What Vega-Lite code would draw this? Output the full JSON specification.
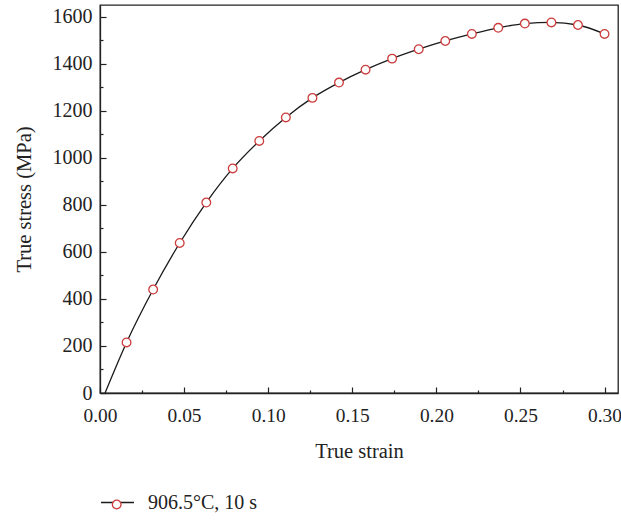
{
  "$schema": "https://vega.github.io/schema/vega-lite/v6.json",
  "autosize": {"type": "none"},
  "padding": {"left": 100, "top": 5, "right": 3, "bottom": 127},
  "width": 518,
  "height": 388,
  "background": "white",
  "config": {
    "font": "Liberation Serif",
    "view": {"stroke": "#222", "strokeWidth": 1.3},
    "axis": {
      "domainColor": "#222", "domainWidth": 1.3,
      "tickColor": "#222", "tickWidth": 1.2,
      "labelFont": "Liberation Serif", "labelFontSize": 20, "labelColor": "#222",
      "titleFont": "Liberation Serif", "titleFontSize": 20.5, "titleFontWeight": "normal", "titleColor": "#222",
      "grid": false
    },
    "legend": {"labelFont": "Liberation Serif", "labelFontSize": 20, "labelColor": "#222"}
  },
  "datasets": {
    "curve": [
      {"strain": 0.003, "stress": 0, "s1": "906.5°C, 10 s"},
      {"strain": 0.0158, "stress": 215, "s1": "906.5°C, 10 s"},
      {"strain": 0.0316, "stress": 440, "s1": "906.5°C, 10 s"},
      {"strain": 0.0474, "stress": 638, "s1": "906.5°C, 10 s"},
      {"strain": 0.0632, "stress": 810, "s1": "906.5°C, 10 s"},
      {"strain": 0.0789, "stress": 955, "s1": "906.5°C, 10 s"},
      {"strain": 0.0947, "stress": 1072, "s1": "906.5°C, 10 s"},
      {"strain": 0.1105, "stress": 1172, "s1": "906.5°C, 10 s"},
      {"strain": 0.1263, "stress": 1255, "s1": "906.5°C, 10 s"},
      {"strain": 0.1421, "stress": 1320, "s1": "906.5°C, 10 s"},
      {"strain": 0.1579, "stress": 1375, "s1": "906.5°C, 10 s"},
      {"strain": 0.1737, "stress": 1422, "s1": "906.5°C, 10 s"},
      {"strain": 0.1895, "stress": 1462, "s1": "906.5°C, 10 s"},
      {"strain": 0.2053, "stress": 1497, "s1": "906.5°C, 10 s"},
      {"strain": 0.2211, "stress": 1527, "s1": "906.5°C, 10 s"},
      {"strain": 0.2368, "stress": 1553, "s1": "906.5°C, 10 s"},
      {"strain": 0.2526, "stress": 1571, "s1": "906.5°C, 10 s"},
      {"strain": 0.2684, "stress": 1576, "s1": "906.5°C, 10 s"},
      {"strain": 0.2842, "stress": 1565, "s1": "906.5°C, 10 s"},
      {"strain": 0.3000, "stress": 1527, "s1": "906.5°C, 10 s"}
    ],
    "pts": [
      {"strain": 0.0158, "stress": 215, "s2": "pts"},
      {"strain": 0.0316, "stress": 440, "s2": "pts"},
      {"strain": 0.0474, "stress": 638, "s2": "pts"},
      {"strain": 0.0632, "stress": 810, "s2": "pts"},
      {"strain": 0.0789, "stress": 955, "s2": "pts"},
      {"strain": 0.0947, "stress": 1072, "s2": "pts"},
      {"strain": 0.1105, "stress": 1172, "s2": "pts"},
      {"strain": 0.1263, "stress": 1255, "s2": "pts"},
      {"strain": 0.1421, "stress": 1320, "s2": "pts"},
      {"strain": 0.1579, "stress": 1375, "s2": "pts"},
      {"strain": 0.1737, "stress": 1422, "s2": "pts"},
      {"strain": 0.1895, "stress": 1462, "s2": "pts"},
      {"strain": 0.2053, "stress": 1497, "s2": "pts"},
      {"strain": 0.2211, "stress": 1527, "s2": "pts"},
      {"strain": 0.2368, "stress": 1553, "s2": "pts"},
      {"strain": 0.2526, "stress": 1571, "s2": "pts"},
      {"strain": 0.2684, "stress": 1576, "s2": "pts"},
      {"strain": 0.2842, "stress": 1565, "s2": "pts"},
      {"strain": 0.3000, "stress": 1527, "s2": "pts"}
    ]
  },
  "encoding": {
    "x": {
      "field": "strain", "type": "quantitative",
      "scale": {"domain": [0, 0.308], "nice": false, "zero": false},
      "title": "True strain",
      "axis": {
        "values": [0, 0.025, 0.05, 0.075, 0.1, 0.125, 0.15, 0.175, 0.2, 0.225, 0.25, 0.275, 0.3],
        "labelExpr": "round(datum.value*1000) % 50 == 0 ? format(datum.value, '.2f') : ''",
        "tickSize": {"condition": {"test": "round(datum.value*1000) % 50 == 0", "value": -6}, "value": -3},
        "labelFlush": false,
        "labelFontSize": 19.4,
        "labelPadding": 19,
        "titlePadding": 17
      }
    },
    "y": {
      "field": "stress", "type": "quantitative",
      "scale": {"domain": [0, 1650], "nice": false},
      "title": "True stress (MPa)",
      "axis": {
        "values": [0, 100, 200, 300, 400, 500, 600, 700, 800, 900, 1000, 1100, 1200, 1300, 1400, 1500, 1600],
        "labelExpr": "datum.value % 200 == 0 ? datum.value : ''",
        "tickSize": {"condition": {"test": "datum.value % 200 == 0", "value": -6}, "value": -3},
        "labelFlush": false,
        "labelPadding": 14,
        "titlePadding": 18
      }
    }
  },
  "layer": [
    {
      "data": {"name": "curve"},
      "mark": {"type": "line", "interpolate": "monotone", "strokeWidth": 1.3},
      "encoding": {
        "color": {
          "field": "s1", "type": "nominal",
          "scale": {"range": ["#1a1a1a"]},
          "legend": {
            "title": null, "orient": "none", "legendX": 0, "legendY": 480,
            "symbolType": "stroke", "symbolSize": 1089, "symbolStrokeWidth": 1.3,
            "labelOffset": 13
          }
        }
      }
    },
    {
      "data": {"name": "pts"},
      "mark": {"type": "point", "shape": "circle", "fill": "white", "filled": false, "strokeWidth": 1.3, "size": 75, "opacity": 1},
      "encoding": {
        "stroke": {
          "field": "s2", "type": "nominal",
          "scale": {"range": ["#cc3d3d"]},
          "legend": {
            "title": null, "orient": "none", "legendX": 11.7, "legendY": 494.5,
            "symbolType": "circle", "symbolFillColor": "white", "symbolStrokeWidth": 1.3,
            "symbolSize": 75, "labelOpacity": 0, "labelFontSize": 1, "labelOffset": 0
          }
        }
      }
    }
  ]
}
